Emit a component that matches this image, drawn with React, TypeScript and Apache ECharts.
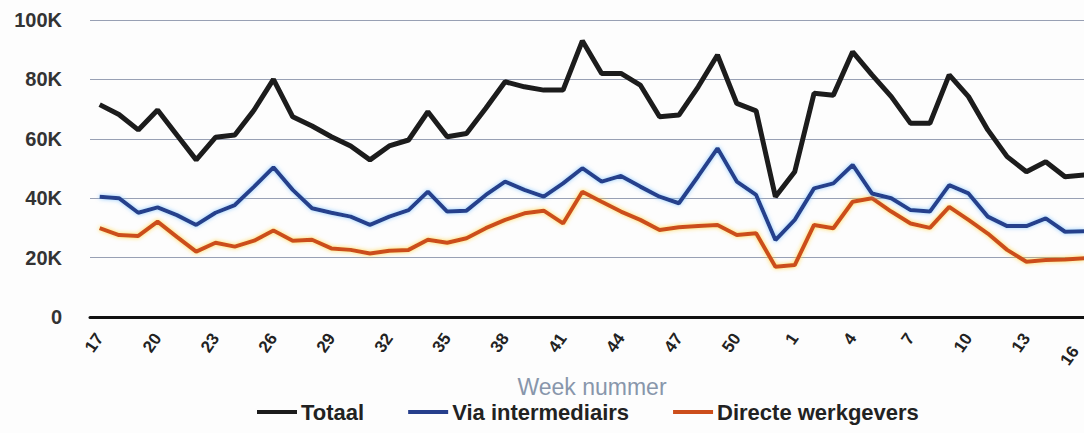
import React, { useEffect, useRef } from "react";
import * as echarts from "echarts";

const weeks: string[] = [
  "17","18","19","20","21","22","23","24","25","26","27","28","29","30","31","32","33","34",
  "35","36","37","38","39","40","41","42","43","44","45","46","47","48","49","50","51","52",
  "1","2","3","4","5","6","7","8","9","10","11","12","13","14","15","16",
];

// values in thousands
const totaal: number[] = [
  71.5, 68.2, 63, 69.7, 61.3, 52.9, 60.5, 61.3, 69.7, 80,
  67.4, 64.3, 60.7, 57.6, 52.9, 57.6, 59.6, 69.1, 60.7, 61.8,
  70.3, 79.2, 77.5, 76.4, 76.4, 93, 82, 82, 78.1, 67.4,
  68, 77.5, 88.2, 71.9, 69.4, 40.5, 48.9, 75.3, 74.7, 89.3,
  81.5, 74.2, 65.2, 65.2, 81.5, 74.2, 63, 54, 48.9, 52.3,
  47.2, 47.8,
];

const viaIntermediairs: number[] = [
  40.5, 40, 35.1, 36.9, 34.3, 31, 35.1, 37.7, 43.9, 50.4,
  42.8, 36.6, 35.1, 33.8, 31, 33.8, 36, 42.2, 35.5, 35.8,
  41.1, 45.6, 42.8, 40.5, 45, 50.1, 45.6, 47.5, 43.9, 40.5,
  38.3, 47.4, 56.8, 45.6, 41.1, 25.9, 32.7, 43.3, 45, 51.2,
  41.6, 40, 36, 35.5, 44.4, 41.6, 33.8, 30.6, 30.6, 33.2,
  28.7, 28.9,
];

const directeWerkgevers: number[] = [
  29.9, 27.6, 27.3, 32.1, 27, 22, 25, 23.7, 25.7, 29.1,
  25.7, 26, 23.1, 22.6, 21.4, 22.3, 22.6, 26, 25, 26.5,
  29.9, 32.7, 34.9, 35.8, 31.5, 42.2, 38.8, 35.5, 32.7, 29.3,
  30.2, 30.6, 31, 27.6, 28.2, 16.9, 17.5, 31, 29.9, 38.8,
  40, 35.5, 31.5, 30, 37.1, 32.7, 28.1, 22.6, 18.6, 19.2,
  19.4, 19.8,
];

const seriesNames: string[] = ["Totaal", "Via intermediairs", "Directe werkgevers"];

export default function App() {
  const ref = useRef<HTMLDivElement>(null);

  useEffect(() => {
    if (!ref.current) return;
    const chart = echarts.init(ref.current, null, { renderer: "svg" });
    const font = "'Liberation Sans', Arial, sans-serif";
    const lastIndex = weeks.length - 1;
    chart.setOption({
      animation: false,
      backgroundColor: "#fdfdfd",
      grid: { left: 90, width: 1004, top: 20, bottom: 116, containLabel: false },
      legend: {
        data: seriesNames,
        bottom: 5,
        left: 252,
        icon: "rect",
        itemWidth: 40,
        itemHeight: 4,
        itemGap: 44,
        textStyle: { fontFamily: font, fontSize: 22, fontWeight: "bold", color: "#222", padding: [0, 0, 0, -1] },
      },
      xAxis: {
        type: "category",
        data: weeks,
        boundaryGap: true,
        name: "Week nummer",
        nameLocation: "middle",
        nameGap: 55,
        nameTextStyle: { fontFamily: font, fontSize: 23, color: "#8896ab" },
        axisLine: { show: true, lineStyle: { color: "#111", width: 3 } },
        axisTick: { show: false },
        axisLabel: {
          interval: 2,
          rotate: 55,
          margin: 18,
          fontFamily: font,
          fontSize: 17,
          fontWeight: "bold",
          color: "#222",
          formatter: (v: string, i: number) => (i === lastIndex ? `{last|${v}}` : v),
          rich: {
            last: { fontFamily: font, fontSize: 17, fontWeight: "bold", color: "#222", padding: [0, 16, 0, 0] },
          },
        },
        splitLine: { show: false },
      },
      yAxis: {
        type: "value",
        min: 0,
        max: 100,
        interval: 20,
        axisLine: { show: false },
        axisTick: { show: false },
        axisLabel: {
          margin: 28,
          fontFamily: font,
          fontSize: 20,
          fontWeight: "bold",
          color: "#333",
          formatter: (v: number) => (v === 0 ? "0" : `${v}K`),
        },
        splitLine: { show: true, lineStyle: { color: "#98a0b4", width: 1 } },
      },
      series: [
        {
          name: seriesNames[2],
          type: "line",
          data: directeWerkgevers,
          symbol: "none",
          z: 2,
          lineStyle: { color: "#cc4e1c", width: 4, shadowColor: "rgba(255,200,40,0.8)", shadowBlur: 4 },
          itemStyle: { color: "#cc4e1c" },
        },
        {
          name: seriesNames[1],
          type: "line",
          data: viaIntermediairs,
          symbol: "none",
          z: 3,
          lineStyle: { color: "#263f8c", width: 4, shadowColor: "rgba(120,190,255,0.8)", shadowBlur: 4 },
          itemStyle: { color: "#263f8c" },
        },
        {
          name: seriesNames[0],
          type: "line",
          data: totaal,
          symbol: "none",
          z: 4,
          lineStyle: { color: "#1c1c1c", width: 5 },
          itemStyle: { color: "#1c1c1c" },
        },
      ],
    });
    return () => chart.dispose();
  }, []);

  return (
    <div style={{ position: "absolute", left: 0, top: 0, width: 1084, height: 433, overflow: "hidden", background: "#fdfdfd" }}>
      <div ref={ref} style={{ width: 1104, height: 433 }} />
    </div>
  );
}
